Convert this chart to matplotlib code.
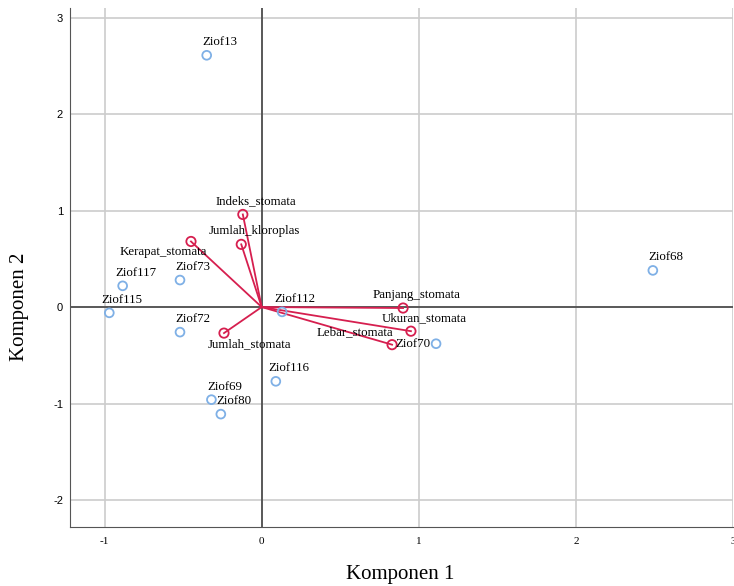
import matplotlib.pyplot as plt

plt.rcParams["axes.unicode_minus"] = False

# case scores (component 1, component 2)
cases = ["Ziof13", "Ziof68", "Ziof117", "Ziof73", "Ziof115", "Ziof72",
         "Ziof112", "Ziof70", "Ziof116", "Ziof69", "Ziof80"]
case_x = [-0.35, 2.49, -0.885, -0.52, -0.97, -0.52, 0.13, 1.11, 0.09, -0.32, -0.26]
case_y = [2.61, 0.38, 0.22, 0.28, -0.06, -0.26, -0.05, -0.38, -0.77, -0.96, -1.11]

# variable loadings
variables = ["Indeks_stomata", "Jumlah_kloroplas", "Kerapat_stomata", "Jumlah_stomata",
             "Panjang_stomata", "Ukuran_stomata", "Lebar_stomata"]
var_x = [-0.12, -0.13, -0.45, -0.24, 0.90, 0.95, 0.83]
var_y = [0.96, 0.65, 0.68, -0.27, -0.01, -0.25, -0.39]

# label offsets in pixels (dx, dy), default is up and to the right
label_offset = {"Ziof70": (-23, 0), "Kerapat_stomata": (-28, -11),
                "Jumlah_stomata": (25, -11), "Lebar_stomata": (-37, 12)}

blue = "#7fb0e6"
red = "#d61f4f"

fig = plt.figure(figsize=(7.34, 5.86), dpi=100)
ax = fig.add_axes([0.0954, 0.1007, 0.9032, 0.8856])

ax.set_xlim(-1.22, 3.0)
ax.set_ylim(-2.28, 3.1)
ax.set_xticks([-1, 0, 1, 2, 3])
ax.set_yticks([-2, -1, 0, 1, 2, 3])
ax.grid(True, color="#cccccc", lw=1.2)
ax.set_axisbelow(True)
ax.axhline(0, color="#444444", lw=1.2, zorder=1)
ax.axvline(0, color="#444444", lw=1.2, zorder=1)

for s in ["top", "right"]:
    ax.spines[s].set_visible(False)
for s in ["left", "bottom"]:
    ax.spines[s].set_color("#555555")
ax.tick_params(axis="x", length=0, labelsize=8, pad=7)
ax.tick_params(axis="y", length=0, labelsize=8, pad=5)
for lab in ax.get_xticklabels():
    lab.set_family("Liberation Serif")
for lab in ax.get_yticklabels():
    lab.set_family("Liberation Sans")

# loading vectors
for vx, vy in zip(var_x, var_y):
    ax.plot([0, vx], [0, vy], color=red, lw=1.3, zorder=2)
ax.scatter(var_x, var_y, s=45, facecolors="none", edgecolors=red, linewidths=1.3, zorder=3)

ax.scatter(case_x, case_y, s=40, facecolors="none", edgecolors=blue, linewidths=1.3, zorder=3)

for names, xs, ys in [(cases, case_x, case_y), (variables, var_x, var_y)]:
    for n, x, y in zip(names, xs, ys):
        dx, dy = label_offset.get(n, (13, 13))
        ax.annotate(n, (x, y), xytext=(dx, dy), textcoords="offset pixels",
                    ha="center", va="center", fontsize=9.3, family="Liberation Serif",
                    zorder=4)

fig.text(400 / 734, 1 - 575 / 586, "Komponen 1", fontsize=15,
         family="Liberation Serif", ha="center", va="center")
fig.text(20 / 734, 1 - 307 / 586, "Komponen 2", fontsize=15, rotation=90,
         family="Liberation Serif", ha="center", va="center")

plt.savefig("out.png", dpi=100)
